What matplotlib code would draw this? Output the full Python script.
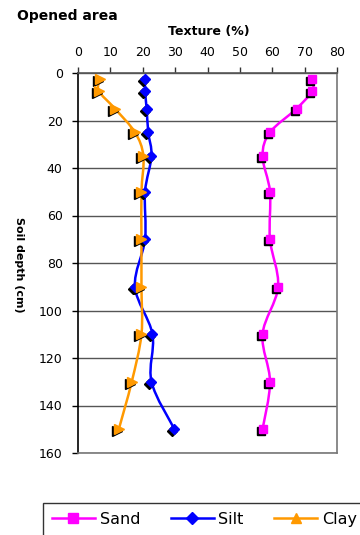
import matplotlib.pyplot as plt
import matplotlib.transforms as mtransforms
from matplotlib.path import Path
from matplotlib.patches import PathPatch
from matplotlib.lines import Line2D
import numpy as np

plt.rcParams['font.family'] = ['DejaVu Sans']

depth = [2.5, 7.5, 15, 25, 35, 50, 70, 90, 110, 130, 150]
sand = [72.4, 72.4, 67.5, 59.3, 57.0, 59.3, 59.3, 61.8, 57.0, 59.3, 57.0]
silt = [20.7, 20.7, 21.2, 21.7, 22.7, 20.7, 20.7, 17.6, 23.0, 22.7, 29.8]
clay = [6.9, 6.4, 11.4, 17.6, 20.2, 19.6, 19.6, 19.6, 19.6, 16.6, 12.6]

x_ticks = [0, 10, 20, 30, 40, 50, 60, 70, 80]
y_ticks = [0, 20, 40, 60, 80, 100, 120, 140, 160]


def smooth_path(x, y):
    # Bezier segments through every point, like a spreadsheet "smoothed line"
    pts = np.column_stack([x, y]).astype(float)
    n = len(pts)
    verts = [pts[0]]
    codes = [Path.MOVETO]
    for i in range(n - 1):
        p0 = pts[i - 1] if i > 0 else pts[i]
        p1 = pts[i]
        p2 = pts[i + 1]
        p3 = pts[i + 2] if i + 2 < n else pts[i + 1]
        c1 = p1 + (p2 - p0) / 6.0
        c2 = p2 - (p3 - p1) / 6.0
        verts += [c1, c2, p2]
        codes += [Path.CURVE4] * 3
    return Path(verts, codes)


fig = plt.figure(figsize=(3.6, 5.35), dpi=100)
ax = fig.add_axes([78 / 360, 1 - 453 / 535, 259 / 360, 380 / 535])

series = [
    (sand, '#ff00ff', 's', 6.0),
    (silt, '#0000ff', 'D', 5.5),
    (clay, '#ff9900', '>', 7.0),
]

shadow = mtransforms.offset_copy(ax.transData, fig=fig, x=-2, y=-2, units='dots')
for vals, col, mk, ms in series:
    ax.add_patch(PathPatch(smooth_path(vals, depth), facecolor='none',
                           edgecolor=col, lw=1.8, zorder=3))
    ax.plot(vals, depth, ls='none', marker=mk, ms=ms, color='black',
            mec='black', transform=shadow, zorder=4)
    ax.plot(vals, depth, ls='none', marker=mk, ms=ms, color=col,
            mec=col, zorder=5)

ax.set_xlim(0, 80)
ax.set_ylim(160, 0)
ax.set_xticks(x_ticks)
ax.set_yticks(y_ticks)
ax.xaxis.tick_top()
ax.tick_params(axis='both', labelsize=9, length=4, width=1)
ax.tick_params(axis='x', direction='out', pad=6, color='#333333')
ax.tick_params(axis='y', direction='out', pad=7)
ax.grid(axis='y', color='#555555', lw=1)
ax.set_axisbelow(True)

ax.spines['left'].set_color('black')
ax.spines['top'].set_color('#555555')
ax.spines['right'].set_color('#777777')
ax.spines['bottom'].set_color('#777777')
for s in ax.spines.values():
    s.set_linewidth(1.2)

fig.text(17 / 360, 1 - 16 / 535, 'Opened area', fontsize=10, fontweight='bold',
         ha='left', va='center')
fig.text(209 / 360, 1 - 32 / 535, 'Texture (%)', fontsize=9, fontweight='bold',
         ha='center', va='center')
fig.text(19 / 360, 1 - 265 / 535, 'Soil depth (cm)', fontsize=8, fontweight='bold',
         rotation=-90, ha='center', va='center')

handles = [Line2D([], [], color=c, marker=m, ms=s, lw=1.8) for c, m, s in
           [('#ff00ff', 's', 6.5), ('#0000ff', 'D', 6.0), ('#ff9900', '^', 7.5)]]
leg = fig.legend(handles, ['Sand', 'Silt', 'Clay'], ncol=3, loc='upper left',
                 bbox_to_anchor=(43 / 360, 1 - 503 / 535), fontsize=11.5,
                 frameon=True, fancybox=False, edgecolor='black',
                 handlelength=2.7, columnspacing=1.9, handletextpad=0.3,
                 borderpad=0.55, borderaxespad=0)
leg.get_frame().set_linewidth(1.0)

fig.savefig('out.png', dpi=100)
